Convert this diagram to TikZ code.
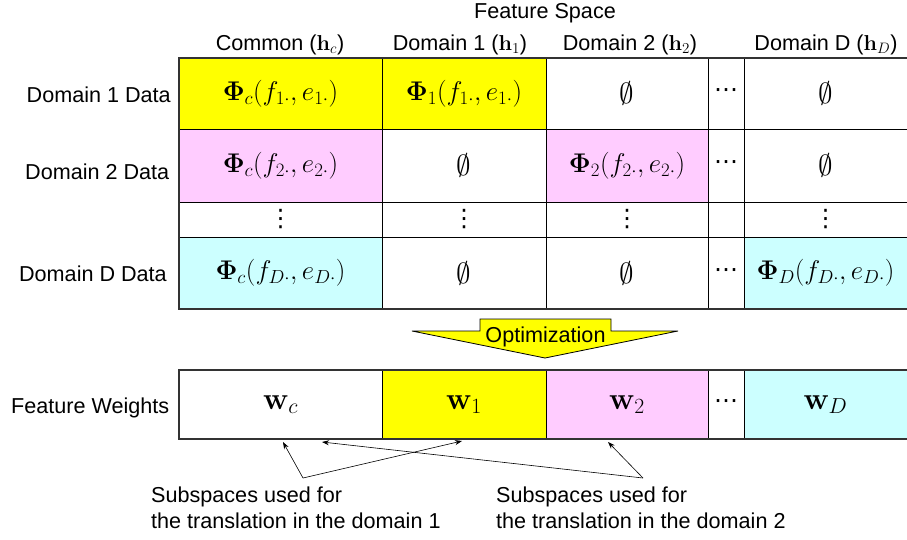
\RequirePackage{fix-cm}
\documentclass[tikz,border=0pt]{standalone}
\usepackage{amsmath}
\usepackage[no-math]{fontspec}
\setmainfont{Liberation Sans}
\newfontfamily\dvsym{DejaVu Sans}
\usetikzlibrary{arrows.meta}
\definecolor{cyel}{HTML}{FFFF00}
\definecolor{cpink}{HTML}{FFCCFF}
\definecolor{ccyan}{HTML}{CCFFFF}
\newcommand\labfs{\fontsize{21.6}{26}\selectfont}
\newcommand\cellfs{\fontsize{27}{30}\selectfont}
\newcommand\wfs{\fontsize{31}{34}\selectfont}
\newcommand\myvdots{{\dvsym\fontsize{24}{26}\selectfont ⋮}}
\newcommand\mycdots{{\dvsym\fontsize{24}{26}\selectfont ⋯}}
\newcommand\myempty{{\fontsize{29}{32}\selectfont$\emptyset$}}
\newcommand\mkcell[8]{\node[#1,fill=#7,minimum width={#5-#3},minimum height={#6-#4}] (#2) at ({(#3+#5)/2},{(#4+#6)/2}) {#8};}
\begin{document}
\begin{tikzpicture}[x=1pt,y=-1pt,
  cellst/.style={draw=black,line width=0.8pt,inner sep=0pt,outer sep=0pt,font=\cellfs},
  wcell/.style={cellst,font=\wfs},
  lab/.style={font=\labfs,inner sep=0pt},
  frame/.style={draw=black!80,line width=2pt,line join=miter},
  ptr/.style={draw=black,line width=0.6pt,-{Stealth[length=7pt,width=5pt]}},
  optarrow/.style={fill=cyel,draw=black,line width=0.8pt,line join=miter}]
\useasboundingbox (0,0) rectangle (907,539);
% header
\node[lab,anchor=base] (fs) at (545,18) {Feature Space};
\node[lab,anchor=base] (hc) at (280,50) {Common ($\mathbf{h}_c$)};
\node[lab,anchor=base] (h1) at (460,50) {Domain 1 ($\mathbf{h}_1$)};
\node[lab,anchor=base] (h2) at (630,50) {Domain 2 ($\mathbf{h}_2$)};
\node[lab,anchor=base] (hD) at (826,50) {Domain D ($\mathbf{h}_D$)};
% row labels
\node[lab,anchor=base east] (l1) at (171,102.3) {Domain 1 Data};
\node[lab,anchor=base east] (l2) at (169.5,179) {Domain 2 Data};
\node[lab,anchor=base east] (lD) at (167,281) {Domain D Data};
\node[lab,anchor=base east] (lw) at (169.5,413) {Feature Weights};
% row 1
\mkcell{cellst}{r1c}{179}{58}{382}{129}{cyel}{$\mathbf{\Phi}_c(f_{1\cdot},e_{1\cdot})$}
\mkcell{cellst}{r11}{382}{58}{546}{129}{cyel}{$\mathbf{\Phi}_1(f_{1\cdot},e_{1\cdot})$}
\mkcell{cellst}{r12}{546}{58}{708}{129}{white}{\myempty}
\mkcell{cellst}{r1x}{708}{58}{744}{129}{white}{\mycdots}
\mkcell{cellst}{r1D}{744}{58}{907}{129}{white}{\myempty}
% row 2
\mkcell{cellst}{r2c}{179}{129}{382}{202}{cpink}{$\mathbf{\Phi}_c(f_{2\cdot},e_{2\cdot})$}
\mkcell{cellst}{r21}{382}{129}{546}{202}{white}{\myempty}
\mkcell{cellst}{r22}{546}{129}{708}{202}{cpink}{$\mathbf{\Phi}_2(f_{2\cdot},e_{2\cdot})$}
\mkcell{cellst}{r2x}{708}{129}{744}{202}{white}{\mycdots}
\mkcell{cellst}{r2D}{744}{129}{907}{202}{white}{\myempty}
% row 3 (dots)
\mkcell{cellst}{r3c}{179}{202}{382}{237}{white}{\myvdots}
\mkcell{cellst}{r31}{382}{202}{546}{237}{white}{\myvdots}
\mkcell{cellst}{r32}{546}{202}{708}{237}{white}{\myvdots}
\mkcell{cellst}{r3x}{708}{202}{744}{237}{white}{}
\mkcell{cellst}{r3D}{744}{202}{907}{237}{white}{\myvdots}
% row D
\mkcell{cellst}{r4c}{179}{237}{382}{309}{ccyan}{$\mathbf{\Phi}_c(f_{D\cdot},e_{D\cdot})$}
\mkcell{cellst}{r41}{382}{237}{546}{309}{white}{\myempty}
\mkcell{cellst}{r42}{546}{237}{708}{309}{white}{\myempty}
\mkcell{cellst}{r4x}{708}{237}{744}{309}{white}{\mycdots}
\mkcell{cellst}{r4D}{744}{237}{907}{309}{ccyan}{$\mathbf{\Phi}_D(f_{D\cdot},e_{D\cdot})$}
\draw[frame] (r1D.north east) -- (r1c.north west) -- (r4c.south west) -- (r4D.south east);
% optimization arrow
\path[optarrow] (480,319) -- (611,319) -- (611,331) -- (678,331) -- (545,358) -- (412,331) -- (480,331) -- cycle;
\node[lab,anchor=base] (opt) at (545.5,342) {Optimization};
% weights
\mkcell{wcell}{wc}{179}{370}{382}{439}{white}{$\mathbf{w}_c$}
\mkcell{wcell}{w1}{382}{370}{546}{439}{cyel}{$\mathbf{w}_1$}
\mkcell{wcell}{w2}{546}{370}{708}{439}{cpink}{$\mathbf{w}_2$}
\mkcell{cellst}{wx}{708}{370}{744}{439}{white}{\mycdots}
\mkcell{wcell}{wD}{744}{370}{907}{439}{ccyan}{$\mathbf{w}_D$}
\draw[frame] (wD.north east) -- (wc.north west) -- (wc.south west) -- (wD.south east);
% annotations
\node[lab,anchor=north west,align=left] (sub1) at (151,487) {Subspaces used for\\the translation in the domain 1};
\node[lab,anchor=north west,align=left] (sub2) at (496,487) {Subspaces used for\\the translation in the domain 2};
\coordinate (s1) at (303,478);
\coordinate (s2) at (643,478);
\coordinate (t1) at (283,442);
\coordinate (t2) at (462,441);
\coordinate (t3) at (322,442);
\coordinate (t4) at (608,442);
\draw[ptr] (s1) -- (t1);
\draw[ptr] (s1) -- (t2);
\draw[ptr] (s2) -- (t3);
\draw[ptr] (s2) -- (t4);
\end{tikzpicture}
\end{document}
